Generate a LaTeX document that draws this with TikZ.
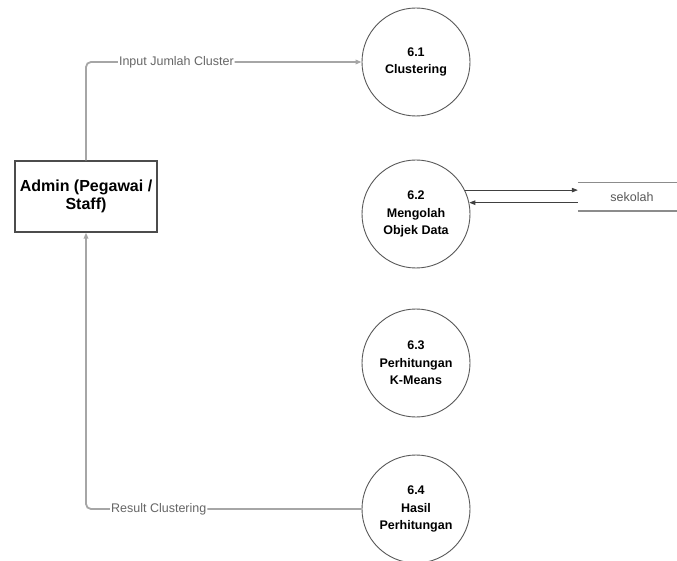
\documentclass[tikz,border=0pt]{standalone}
\usepackage{fontspec}
\setmainfont{Liberation Sans}
\usetikzlibrary{arrows.meta}
\begin{document}
\begin{tikzpicture}[x=1pt,y=-1pt,
  proc/.style={circle,draw=black!65,line width=0.9pt,minimum size=108pt,inner sep=0pt,
    align=center,font=\bfseries\fontsize{12.5}{17.5}\selectfont},
  entity/.style={draw=black!70,line width=1.2pt,minimum width=142pt,minimum height=71pt,
    inner sep=0pt,align=center,font=\bfseries\fontsize{16}{18}\selectfont},
  flow/.style={draw=black!35,line width=1.8pt,rounded corners=5pt},
  dsflow/.style={draw=black!75,line width=0.8pt},
  tip/.style={-{Triangle[length=6pt,width=4.5pt]}},
  flowlabel/.style={fill=white,inner sep=1pt,text=black!60,font=\fontsize{12.5}{14}\selectfont},
  storeline/.style={draw=black!45,line width=1.4pt}]
\clip (0,0) rectangle (677,561);
\fill[white] (0,0) rectangle (677,561);

% entity
\node[entity] (admin) at (86,196.5) {Admin (Pegawai /\\Staff)};

% processes
\node[proc] (p1) at (416,62) {6.1\\Clustering};
\node[proc] (p2) at (416,214) {6.2\\Mengolah\\Objek Data};
\node[proc] (p3) at (416,363) {6.3\\Perhitungan\\K-Means};
\node[proc] (p4) at (416,509) {6.4\\Hasil\\Perhitungan};

% data store
\node[minimum width=108pt,minimum height=28pt,inner sep=0pt,
  text=black!65,font=\fontsize{12.5}{14}\selectfont] (ds) at (632,197) {sekolah};
\draw[storeline] (ds.north west) -- (ds.north east);
\draw[storeline] (ds.south west) -- (ds.south east);

% data flows
\draw[flow,tip] (admin.north) |- (p1.west)
  node[flowlabel,pos=0.664] {Input Jumlah Cluster};
\draw[flow,tip] (p4.west) -| (admin.south)
  node[flowlabel,pos=0.368] {Result Clustering};
\draw[dsflow,tip] (p2.26) -- (p2.26 -| ds.west);
\draw[dsflow,tip] (p2.12 -| ds.west) -- (p2.12);
\end{tikzpicture}
\end{document}
